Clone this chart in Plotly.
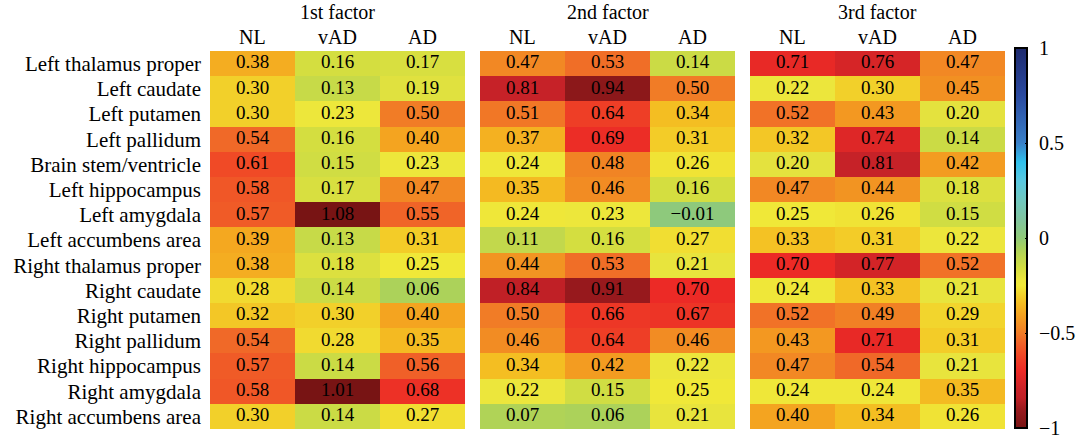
import plotly.graph_objects as go

# ---- data ----
regions = [
    "Left thalamus proper", "Left caudate", "Left putamen", "Left pallidum",
    "Brain stem/ventricle", "Left hippocampus", "Left amygdala",
    "Left accumbens area", "Right thalamus proper", "Right caudate",
    "Right putamen", "Right pallidum", "Right hippocampus", "Right amygdala",
    "Right accumbens area",
]
groups = ["NL", "vAD", "AD"]
factor_titles = ["1st factor", "2nd factor", "3rd factor"]

f1_nl = [0.38, 0.30, 0.30, 0.54, 0.61, 0.58, 0.57, 0.39, 0.38, 0.28, 0.32, 0.54, 0.57, 0.58, 0.30]
f1_vad = [0.16, 0.13, 0.23, 0.16, 0.15, 0.17, 1.08, 0.13, 0.18, 0.14, 0.30, 0.28, 0.14, 1.01, 0.14]
f1_ad = [0.17, 0.19, 0.50, 0.40, 0.23, 0.47, 0.55, 0.31, 0.25, 0.06, 0.40, 0.35, 0.56, 0.68, 0.27]

f2_nl = [0.47, 0.81, 0.51, 0.37, 0.24, 0.35, 0.24, 0.11, 0.44, 0.84, 0.50, 0.46, 0.34, 0.22, 0.07]
f2_vad = [0.53, 0.94, 0.64, 0.69, 0.48, 0.46, 0.23, 0.16, 0.53, 0.91, 0.66, 0.64, 0.42, 0.15, 0.06]
f2_ad = [0.14, 0.50, 0.34, 0.31, 0.26, 0.16, -0.01, 0.27, 0.21, 0.70, 0.67, 0.46, 0.22, 0.25, 0.21]

f3_nl = [0.71, 0.22, 0.52, 0.32, 0.20, 0.47, 0.25, 0.33, 0.70, 0.24, 0.52, 0.43, 0.47, 0.24, 0.40]
f3_vad = [0.76, 0.30, 0.43, 0.74, 0.81, 0.44, 0.26, 0.31, 0.77, 0.33, 0.49, 0.71, 0.54, 0.24, 0.34]
f3_ad = [0.47, 0.45, 0.20, 0.14, 0.42, 0.18, 0.15, 0.22, 0.52, 0.21, 0.29, 0.31, 0.21, 0.35, 0.26]

factors = [
    [f1_nl, f1_vad, f1_ad],
    [f2_nl, f2_vad, f2_ad],
    [f3_nl, f3_vad, f3_ad],
]

cbar_ticks = [-1, -0.5, 0, 0.5, 1]
cbar_ticktext = ["\u22121", "\u22120.5", "0", "0.5", "1"]

# ---- styling ----
W, H = 1081, 438
FONT = "Liberation Serif"
colorscale = [
    [0.000, "#781414"],
    [0.050, "#9A1A1E"],
    [0.080, "#C02026"],
    [0.100, "#C82228"],
    [0.150, "#EC2A26"],
    [0.180, "#EE3E26"],
    [0.200, "#F04E26"],
    [0.225, "#F06428"],
    [0.250, "#F17C26"],
    [0.275, "#F29022"],
    [0.300, "#F4A420"],
    [0.330, "#F4BE22"],
    [0.350, "#F2D02A"],
    [0.375, "#F0E838"],
    [0.390, "#ECE63C"],
    [0.400, "#E4E23E"],
    [0.420, "#D4DE40"],
    [0.435, "#C7DA48"],
    [0.445, "#C2D84C"],
    [0.470, "#ACD25A"],
    [0.500, "#90CA78"],
    [0.550, "#80C4A0"],
    [0.600, "#70C8C0"],
    [0.650, "#5AC8E0"],
    [0.700, "#30C0EC"],
    [0.750, "#3A80C8"],
    [0.875, "#2A4AA0"],
    [1.000, "#1E2A6E"],
]

x_px = [(210, 465), (480, 735), (750, 1005)]
y_top, y_bot = 51, 429
cb_top, cb_bot = 48, 428


def px_x(p):
    return p / W


def px_y(p):
    return (H - p) / H


fig = go.Figure()
for i, cols in enumerate(factors):
    xa = "x" if i == 0 else f"x{i+1}"
    z = [[-cols[c][r] for c in range(3)] for r in range(len(regions))]
    fig.add_trace(go.Heatmap(
        z=z, x=[0, 1, 2], y=regions,
        coloraxis="coloraxis", xaxis=xa, yaxis="y",
        hoverinfo="skip", xgap=0, ygap=0,
    ))
    # cell value labels
    tx, ty, tt = [], [], []
    for c in range(3):
        for r in range(len(regions)):
            tx.append(c)
            ty.append(regions[r])
            tt.append(f"{cols[c][r]:.2f}".replace("-", "\u2212"))
    fig.add_trace(go.Scatter(
        x=tx, y=ty, text=tt, mode="text", xaxis=xa, yaxis="y",
        textfont=dict(family=FONT, size=19, color="black"),
        textposition="middle center", hoverinfo="skip", showlegend=False,
    ))
    ax = dict(domain=[px_x(x_px[i][0]), px_x(x_px[i][1])], range=[-0.5, 2.5],
              autorange=False,
              showticklabels=False, showgrid=False, zeroline=False, ticks="",
              anchor="y", fixedrange=True)
    fig.layout["xaxis" if i == 0 else f"xaxis{i+1}"] = ax
    for c, g in enumerate(groups):
        fig.add_annotation(x=c, y=px_y(37), xref=xa, yref="paper", text=g,
                           showarrow=False, font=dict(family=FONT, size=20, color="black"),
                           xanchor="center", yanchor="middle")
    fig.add_annotation(x=1, y=px_y(12), xref=xa, yref="paper", text=factor_titles[i],
                       showarrow=False, font=dict(family=FONT, size=20, color="black"),
                       xanchor="center", yanchor="middle")

# colorbar tick labels as text next to the bar
for v, t in zip(cbar_ticks, cbar_ticktext):
    ypix = cb_bot - (v + 1) / 2 * (cb_bot - cb_top)
    fig.add_annotation(x=px_x(1037), y=px_y(ypix), xref="paper", yref="paper", text=t,
                       showarrow=False, font=dict(family=FONT, size=20, color="black"),
                       xanchor="left", yanchor="middle")

fig.update_layout(
    width=W, height=H,
    font=dict(family=FONT, color="black"),
    margin=dict(l=0, r=0, t=0, b=0, autoexpand=False),
    paper_bgcolor="white", plot_bgcolor="white",
    yaxis=dict(domain=[px_y(y_bot), px_y(y_top)], type="category",
               autorange=False, range=[len(regions) - 0.5, -0.5],
               categoryorder="array", categoryarray=regions,
               tickmode="array", tickvals=regions, ticktext=regions,
               showgrid=False, zeroline=False, ticks="", ticklabelstandoff=8,
               tickfont=dict(family=FONT, size=21, color="black"), fixedrange=True),
    coloraxis=dict(
        colorscale=colorscale, cmin=-1, cmax=1,
        colorbar=dict(
            x=px_x(1015), xanchor="left", xpad=0, ypad=0,
            y=px_y((cb_top + cb_bot) / 2), yanchor="middle",
            lenmode="pixels", len=cb_bot - cb_top, thicknessmode="pixels", thickness=12,
            outlinewidth=2, outlinecolor="black",
            tickvals=cbar_ticks, ticktext=[""] * len(cbar_ticks),
            ticks="inside", ticklen=3, tickcolor="black", tickwidth=1,
        ),
    ),
    showlegend=False,
)

fig.write_html("out.html")
